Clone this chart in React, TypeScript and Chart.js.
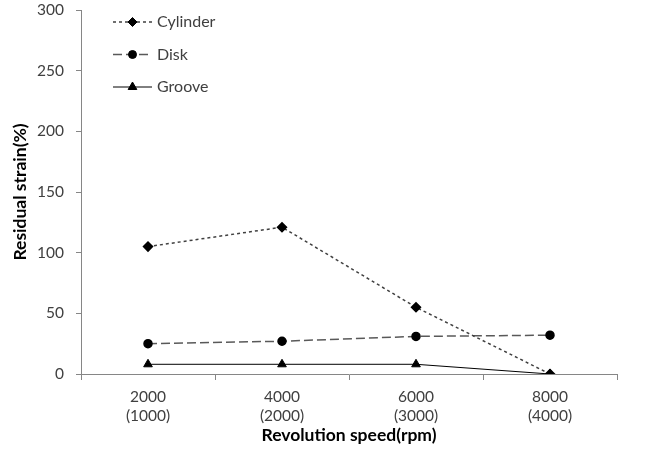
import React, { useEffect, useRef } from "react";
import { Chart, registerables } from "chart.js";
import { drawPoint } from "chart.js/helpers";

Chart.register(...registerables);

const categories: string[][] = [
  ["2000", "(1000)"],
  ["4000", "(2000)"],
  ["6000", "(3000)"],
  ["8000", "(4000)"],
];
const seriesNames = ["Cylinder", "Disk", "Groove"];
const cylinder = [105, 121, 55, 0];
const disk = [25, 27, 31, 32];
const groove = [8, 8, 8, 0];
const yMin = 0;
const yMax = 300;
const yStep = 50;
const xTitle = "Revolution speed(rpm)";
const yTitle = "Residual strain(%)";

const FONT = "Lato, 'Open Sans', sans-serif";

const insideLegend = {
  id: "insideLegend",
  afterDraw(chart: any) {
    const ctx = chart.ctx as CanvasRenderingContext2D;
    const area = chart.chartArea;
    chart.data.datasets.forEach((ds: any, i: number) => {
      const y = area.top + 12 + i * 32.5;
      const x0 = area.left + 32;
      const x1 = x0 + 39;
      ctx.save();
      ctx.strokeStyle = ds.borderColor;
      ctx.lineWidth = ds.borderWidth;
      ctx.setLineDash(ds.borderDash || []);
      ctx.beginPath();
      ctx.moveTo(x0, y);
      ctx.lineTo(x1, y);
      ctx.stroke();
      ctx.setLineDash([]);
      ctx.fillStyle = ds.pointBackgroundColor;
      ctx.strokeStyle = ds.pointBorderColor;
      ctx.lineWidth = 1;
      drawPoint(ctx, { pointStyle: ds.pointStyle, radius: ds.pointRadius, rotation: 0, borderWidth: 1 } as any, (x0 + x1) / 2, y);
      ctx.fillStyle = "#404040";
      ctx.font = `16px ${FONT}`;
      ctx.textBaseline = "middle";
      ctx.textAlign = "left";
      ctx.fillText(seriesNames[i], x1 + 5, y);
      ctx.restore();
    });
  },
};

export default function App() {
  const ref = useRef<HTMLCanvasElement | null>(null);
  useEffect(() => {
    if (!ref.current) return;
    const chart = new Chart(ref.current, {
      type: "line",
      data: {
        labels: categories,
        datasets: [
          {
            label: seriesNames[0],
            data: cylinder,
            borderColor: "#404040",
            borderWidth: 1.5,
            borderDash: [3, 3],
            pointStyle: "rectRot",
            pointRadius: 4.5,
            pointBackgroundColor: "#000",
            pointBorderColor: "#000",
            fill: false,
            tension: 0,
          },
          {
            label: seriesNames[1],
            data: disk,
            borderColor: "#595959",
            borderWidth: 1.5,
            borderDash: [9, 4],
            pointStyle: "circle",
            pointRadius: 4,
            pointBackgroundColor: "#000",
            pointBorderColor: "#000",
            fill: false,
            tension: 0,
          },
          {
            label: seriesNames[2],
            data: groove,
            borderColor: "#000",
            borderWidth: 1,
            borderDash: [],
            pointStyle: "triangle",
            pointRadius: 5,
            pointBackgroundColor: "#000",
            pointBorderColor: "#000",
            fill: false,
            tension: 0,
          },
        ],
      },
      options: {
        animation: false,
        responsive: true,
        maintainAspectRatio: false,
        layout: { padding: { top: 10, right: 48, bottom: 18, left: 0 } },
        plugins: { legend: { display: false }, tooltip: { enabled: false } },
        scales: {
          x: {
            type: "category",
            offset: true,
            afterFit: (s: any) => {
              s.height = 72;
            },
            grid: {
              display: true,
              offset: true,
              drawOnChartArea: false,
              drawTicks: true,
              tickLength: 6,
              color: "#868686",
            },
            border: { display: true, color: "#868686", width: 1 },
            ticks: {
              color: "#404040",
              font: { family: FONT, size: 15.5 },
              padding: 8,
              maxRotation: 0,
              autoSkip: false,
            },
            title: {
              display: true,
              text: xTitle,
              color: "#000",
              font: { family: FONT, size: 17.5, weight: "bold" },
              padding: { top: 2, bottom: 0 },
            },
          },
          y: {
            min: yMin,
            max: yMax,
            afterFit: (s: any) => {
              s.width = 81;
              s.paddingTop = 0;
              s.paddingBottom = 0;
            },
            grid: {
              display: true,
              drawOnChartArea: false,
              drawTicks: true,
              tickLength: 5,
              color: "#868686",
            },
            border: { display: true, color: "#868686", width: 1 },
            ticks: {
              stepSize: yStep,
              color: "#404040",
              font: { family: FONT, size: 15.5 },
              padding: 12,
            },
            title: {
              display: true,
              text: yTitle,
              color: "#000",
              font: { family: FONT, size: 17.5, weight: "bold" },
              padding: { top: 10, bottom: 0 },
            },
          },
        },
      },
      plugins: [insideLegend],
    });
    return () => chart.destroy();
  }, []);
  return (
    <div style={{ position: "fixed", left: 0, top: 0, width: 665, height: 464, background: "#fff" }}>
      <canvas ref={ref} />
    </div>
  );
}
